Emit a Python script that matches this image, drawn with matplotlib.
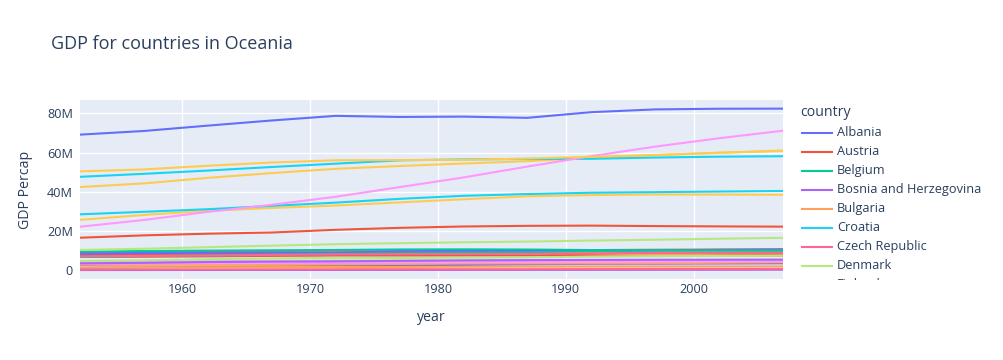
import matplotlib
matplotlib.use("Agg")
import matplotlib.pyplot as plt
from matplotlib.lines import Line2D

years = [1952, 1957, 1962, 1967, 1972, 1977, 1982, 1987, 1992, 1997, 2002, 2007]

countries = ["Albania", "Austria", "Belgium", "Bosnia and Herzegovina", "Bulgaria",
             "Croatia", "Czech Republic", "Denmark", "Finland", "France", "Germany",
             "Greece", "Hungary", "Iceland", "Ireland", "Italy", "Montenegro",
             "Netherlands", "Norway", "Poland", "Portugal", "Romania", "Serbia",
             "Slovak Republic", "Slovenia", "Spain", "Sweden", "Switzerland",
             "Turkey", "United Kingdom"]

Albania = [1282697, 1476505, 1728137, 1984060, 2263554, 2509048, 2780097, 3075321, 3326498, 3428038, 3508512, 3600523]
Austria = [6927772, 6965860, 7129864, 7376998, 7544201, 7568430, 7574613, 7578903, 7914969, 8069876, 8148312, 8199783]
Belgium = [8730405, 8989111, 9218400, 9556500, 9709100, 9821800, 9856303, 9870200, 10045622, 10199787, 10311970, 10392226]
Bosnia = [2791000, 3076000, 3349000, 3585000, 3819000, 4086000, 4172693, 4338977, 4256013, 3607000, 4165416, 4552198]
Bulgaria = [7274900, 7651254, 8012946, 8310226, 8576200, 8797022, 8892098, 8971958, 8658506, 8066057, 7661799, 7322858]
Croatia = [3882229, 3991242, 4076557, 4174366, 4225310, 4318673, 4413368, 4484310, 4494013, 4444595, 4481020, 4493312]
Czech = [9125183, 9513758, 9620282, 9835109, 9862158, 10161915, 10303704, 10311597, 10315702, 10300707, 10256295, 10228744]
Denmark = [4334000, 4487831, 4646899, 4838800, 4991596, 5088419, 5117810, 5127024, 5171393, 5283663, 5374693, 5468120]
Finland = [4090500, 4324000, 4491443, 4605744, 4639657, 4738902, 4826933, 4931729, 5041039, 5134406, 5193039, 5238460]
France = [42459667, 44310863, 47124000, 49569000, 51732000, 53165019, 54433565, 55630100, 57374179, 58623428, 59925035, 61083916]
Germany = [69145952, 71019069, 73739117, 76368453, 78717088, 78160773, 78335266, 77718298, 80597764, 82011073, 82350671, 82400996]
Greece = [7733250, 8096218, 8448233, 8716441, 8888628, 9308479, 9786480, 9974490, 10325429, 10502372, 10603863, 10706290]
Hungary = [9504000, 9839000, 10063000, 10223422, 10394091, 10637171, 10705535, 10612740, 10348684, 10244684, 10083313, 9956108]
Iceland = [147962, 165110, 182053, 198676, 209275, 221823, 233997, 244676, 259012, 271192, 288030, 301931]
Ireland = [2952156, 2878220, 2830000, 2900100, 3024400, 3271900, 3480000, 3539900, 3557761, 3667233, 3879155, 4109086]
Italy = [47666000, 49182000, 50843200, 52667100, 54365564, 56059245, 56535636, 56729703, 56840847, 57479469, 57926999, 58147733]
Montenegro = [413834, 442829, 474528, 501035, 527678, 560073, 562548, 569473, 621621, 692651, 720230, 684736]
Netherlands = [10381988, 11026383, 11805689, 12596822, 13329874, 13852989, 14310401, 14665278, 15174244, 15604464, 16122830, 16570613]
Norway = [3327728, 3491938, 3638919, 3786019, 3933004, 4043205, 4114787, 4186147, 4286357, 4405672, 4535591, 4627926]
Poland = [25730551, 28235346, 30329617, 31785378, 33039545, 34621254, 36227381, 37740710, 38370697, 38654957, 38625976, 38518241]
Portugal = [8526050, 8817650, 9019800, 9103000, 8970450, 9662600, 9859650, 9915289, 9927680, 10156415, 10433867, 10642836]
Romania = [16630000, 17829327, 18680721, 19284814, 20662648, 21658597, 22356726, 22686371, 22797027, 22562458, 22404337, 22276056]
Serbia = [6860147, 7271135, 7616060, 7971222, 8313288, 8686367, 9032824, 9230783, 9826397, 10336594, 10111559, 10150265]
Slovakia = [3558137, 3844277, 4237384, 4442238, 4593433, 4827803, 5048043, 5199318, 5302888, 5383010, 5410052, 5447502]
Slovenia = [1489518, 1533070, 1582962, 1646912, 1694510, 1746919, 1861252, 1945870, 1999210, 2011612, 2011497, 2009245]
Spain = [28549870, 29841614, 31158061, 32850275, 34513161, 36439000, 37983310, 38880702, 39549438, 39855442, 40152517, 40448191]
Sweden = [7124673, 7363802, 7561588, 7867931, 8122293, 8251648, 8325260, 8421403, 8718867, 8897619, 8954175, 9031088]
Switzerland = [4815000, 5126000, 5666000, 6063000, 6401400, 6316424, 6468126, 6649942, 6995447, 7193761, 7361757, 7554661]
Turkey = [22235677, 25670939, 29788695, 33411317, 37492953, 42404033, 47328791, 52881328, 58179144, 63047647, 67308928, 71158647]
UK = [50430000, 51430000, 53292000, 54959000, 56079000, 56179000, 56339704, 56981620, 57866349, 58808266, 59912431, 60776238]

series = [Albania, Austria, Belgium, Bosnia, Bulgaria, Croatia, Czech, Denmark, Finland,
          France, Germany, Greece, Hungary, Iceland, Ireland, Italy, Montenegro,
          Netherlands, Norway, Poland, Portugal, Romania, Serbia, Slovakia, Slovenia,
          Spain, Sweden, Switzerland, Turkey, UK]

palette = ["#636efa", "#EF553B", "#00cc96", "#ab63fa", "#FFA15A",
           "#19d3f3", "#FF6692", "#B6E880", "#FF97FF", "#FECB52"]

plt.rcParams["font.family"] = ["Open Sans", "DejaVu Sans"]
TXT = "#2a3f5f"
W, H = 1004, 360
fig = plt.figure(figsize=(W / 100, H / 100), dpi=100)

L, R, T, B = 80, 783, 100, 279
ax = fig.add_axes([L / W, 1 - B / H, (R - L) / W, (B - T) / H])
ax.set_facecolor("#E5ECF6")
for s in ax.spines.values():
    s.set_visible(False)

for i, (name, vals) in enumerate(zip(countries, series)):
    ax.plot(years, vals, color=palette[i % 10], lw=1.5, solid_joinstyle="round", zorder=2)

ax.set_xlim(1952, 2007)
ax.set_ylim(-4.4e6, 86.8e6)
ax.set_xticks([1960, 1970, 1980, 1990, 2000])
ax.set_yticks([0, 20e6, 40e6, 60e6, 80e6])
ax.set_yticklabels(["0", "20M", "40M", "60M", "80M"])
ax.grid(True, color="white", lw=1, zorder=0)
ax.set_axisbelow(True)
ax.tick_params(axis="x", length=0, labelsize=9.1, labelcolor=TXT, pad=3)
ax.tick_params(axis="y", length=0, labelsize=9.1, labelcolor=TXT, pad=5)
ax.set_xlabel("year", fontsize=10.2, color=TXT, labelpad=10)
ax.set_ylabel("GDP Percap", fontsize=10.2, color=TXT, labelpad=10)

fig.text(51 / W, 1 - 44 / H, "GDP for countries in Oceania", fontsize=13, color=TXT,
         ha="left", va="center")

# legend region (clipped like the reference)
lax = fig.add_axes([790 / W, 1 - 279.5 / H, (W - 790) / W, (279.5 - 100) / H])
lax.set_xlim(790, W)
lax.set_ylim(279.5, 100)
lax.axis("off")
lax.text(800, 113, "country", fontsize=10.2, color=TXT, ha="left", va="center", clip_on=True)
for i, name in enumerate(countries):
    y = 132.7 + 19 * i
    if y > 300:
        break
    ln = Line2D([802, 832], [y, y], color=palette[i % 10], lw=1.5)
    lax.add_line(ln)
    lax.text(837, y, name, fontsize=9.2, color=TXT, ha="left", va="center", clip_on=True)

fig.savefig("out.png", dpi=100)
